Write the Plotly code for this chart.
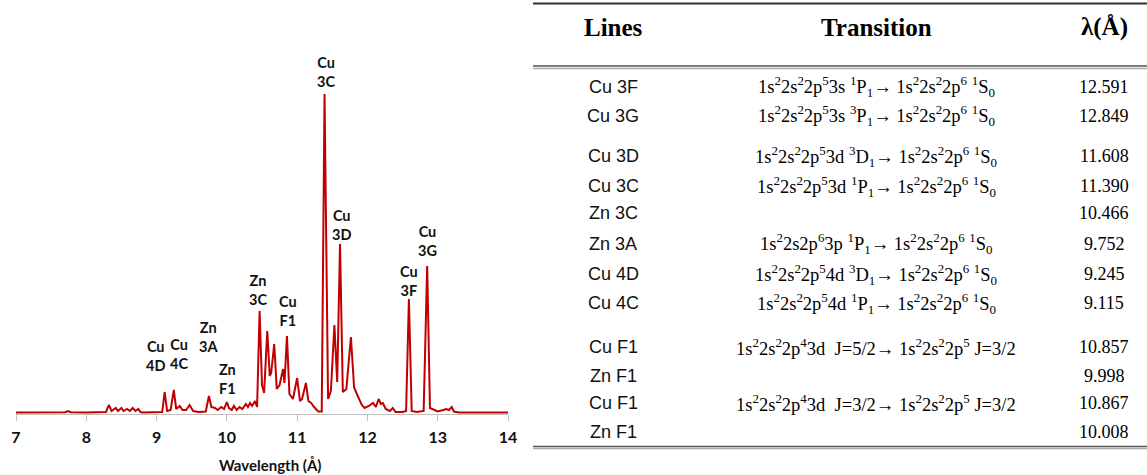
import plotly.graph_objects as go

# ---------------- spectrum data (arbitrary intensity units) -------------
wavelength = [7.00, 7.60, 7.70, 7.74, 7.78, 8.00, 8.28, 8.32, 8.36, 8.42, 8.45, 8.50, 8.53,
              8.58, 8.62, 8.66, 8.70, 8.74, 8.77, 8.80, 9.00, 9.08, 9.115, 9.15, 9.20, 9.245,
              9.28, 9.33, 9.37, 9.42, 9.47, 9.52, 9.60, 9.70, 9.745, 9.78, 9.83, 9.87, 9.92,
              9.96, 10.00, 10.03, 10.07, 10.10, 10.14, 10.18, 10.22, 10.27, 10.30, 10.33,
              10.36, 10.40, 10.43, 10.466, 10.50, 10.53, 10.575, 10.61, 10.63, 10.674, 10.71,
              10.75, 10.80, 10.82, 10.855, 10.89, 10.94, 11.00, 11.04, 11.07, 11.125, 11.16,
              11.20, 11.24, 11.30, 11.35, 11.39, 11.44, 11.48, 11.53, 11.57, 11.61, 11.65,
              11.70, 11.765, 11.81, 11.83, 11.865, 11.92, 11.96, 12.02, 12.08, 12.12, 12.16,
              12.19, 12.22, 12.26, 12.32, 12.36, 12.40, 12.50, 12.55, 12.59, 12.63, 12.70,
              12.80, 12.85, 12.89, 12.95, 13.00, 13.08, 13.12, 13.16, 13.20, 13.23, 13.30,
              14.00]
intensity = [0.5, 0.5, 0.8, 2.0, 0.8, 0.5, 1.0, 8.0, 2.0, 5.0, 2.0, 5.0, 2.0,
             4.0, 2.0, 5.0, 2.0, 4.0, 1.0, 0.5, 0.5, 1.0, 21.0, 2.0, 3.0, 23.0,
             4.0, 7.0, 3.0, 3.0, 8.0, 2.0, 1.0, 1.5, 17.0, 6.0, 5.0, 3.0, 6.0,
             4.0, 11.0, 5.0, 3.0, 7.0, 3.0, 6.0, 4.0, 9.0, 6.0, 10.0,
             7.0, 12.0, 6.0, 102.0, 28.0, 20.0, 82.0, 37.0, 40.0, 69.0, 24.0,
             28.0, 44.0, 30.0, 77.0, 19.0, 14.0, 35.0, 12.0, 14.0, 30.0, 12.0,
             10.0, 6.0, 1.5, 1.5, 319.0, 14.0, 22.0, 88.0, 31.0, 169.0, 21.0,
             24.0, 76.0, 26.0, 22.0, 16.0, 8.0, 5.0, 7.0, 10.0, 6.0, 14.0,
             9.0, 10.0, 4.0, 2.0, 5.0, 1.0, 1.0, 2.0, 114.0, 2.0, 1.0,
             2.0, 147.0, 5.0, 3.0, 1.5, 3.0, 4.0, 3.0, 6.0, 1.5, 0.5,
             0.5]

x_ticks = [7, 8, 9, 10, 11, 12, 13, 14]

# peak labels
peak_labels = ["Cu<br>4D", "Cu<br>4C", "Zn<br>3A", "Zn<br>F1", "Zn<br>3C",
               "Cu<br>F1", "Cu<br>3C", "Cu<br>3D", "Cu<br>3F", "Cu<br>3G"]
peak_wavelengths = [9.115, 9.245, 9.745, 10.00, 10.466, 10.855, 11.39, 11.61, 12.59, 12.85]

# ---------------- table data -------------
line_names = ["Cu 3F", "Cu 3G", "Cu 3D", "Cu 3C", "Zn 3C", "Zn 3A",
              "Cu 4D", "Cu 4C", "Cu F1", "Zn F1", "Cu F1", "Zn F1"]
S = "<sup>%s</sup>"
B = "<sub>%s</sub>"
def cfg(core):
    return "1s" + S % 2 + "2s" + S % 2 + "2p" + S % core
ground = "1s" + S % 2 + "2s" + S % 2 + "2p" + S % 6 + " " + S % 1 + "S" + B % 0
transitions = [
    cfg(5) + "3s " + S % 1 + "P" + B % 1 + "\u2192 " + ground,
    cfg(5) + "3s " + S % 3 + "P" + B % 1 + "\u2192 " + ground,
    cfg(5) + "3d " + S % 3 + "D" + B % 1 + "\u2192 " + ground,
    cfg(5) + "3d " + S % 1 + "P" + B % 1 + "\u2192 " + ground,
    "",
    "1s" + S % 2 + "2s2p" + S % 6 + "3p " + S % 1 + "P" + B % 1 + "\u2192 " + ground,
    cfg(5) + "4d " + S % 3 + "D" + B % 1 + "\u2192 " + ground,
    cfg(5) + "4d " + S % 1 + "P" + B % 1 + "\u2192 " + ground,
    cfg(4) + "3d \u00a0J=5/2\u2192 1s" + S % 2 + "2s" + S % 2 + "2p" + S % 5 + " J=3/2",
    "",
    cfg(4) + "3d \u00a0J=3/2\u2192 1s" + S % 2 + "2s" + S % 2 + "2p" + S % 5 + " J=3/2",
    "",
]
table_wavelengths = ["12.591", "12.849", "11.608", "11.390", "10.466", "9.752",
                     "9.245", "9.115", "10.857", "9.998", "10.867", "10.008"]
headers = ["Lines", "Transition", "\u03bb(\u00c5)"]

# ---------------- figure -------------
W, H = 1147, 475
def px(x):
    return x / W
def py(y):
    return 1 - y / H

fig = go.Figure()
fig.add_trace(go.Scatter(x=wavelength, y=intensity, mode="lines",
                         line=dict(color="#C00000", width=2),
                         hoverinfo="skip", showlegend=False))

LABEL_FONT = dict(family="Lato", size=14.5, color="#111111", weight="bold")
label_shift = [(-9, 36), (5, 36), (0, 59), (1, 23), (-2, 21),
               (1, 25), (1, 22), (1, 19), (0, 18), (0, 25)]
lookup = dict(zip(wavelength, intensity))
annotations = []
for lab, wl, (dx, dy) in zip(peak_labels, peak_wavelengths, label_shift):
    annotations.append(dict(x=wl, y=lookup[wl], xref="x", yref="y", text=lab,
                            showarrow=False, xanchor="center", yanchor="middle",
                            xshift=dx, yshift=dy, font=LABEL_FONT))

# axis title
annotations.append(dict(x=px(270), y=py(465), xref="paper", yref="paper",
                        text="Wavelength (\u00c5)", showarrow=False,
                        xanchor="center", yanchor="middle",
                        font=dict(family="Lato", size=15, color="#111111", weight="bold")))

# table
col_x = [613, 876, 1104]
head_font = dict(family="Liberation Serif", size=25, color="#000000", weight="bold")
for hx, htxt in zip(col_x, headers):
    annotations.append(dict(x=px(hx), y=py(27), xref="paper", yref="paper", text=htxt,
                            showarrow=False, xanchor="center", yanchor="middle",
                            font=head_font))
row_y = [87, 116, 156, 186, 213, 244, 274, 303, 347, 376, 403, 432]
for yy, name, tr, wl in zip(row_y, line_names, transitions, table_wavelengths):
    annotations.append(dict(x=px(col_x[0]), y=py(yy), xref="paper", yref="paper", text=name,
                            showarrow=False, xanchor="center", yanchor="middle",
                            font=dict(family="Liberation Sans", size=18, color="#111111")))
    if tr:
        annotations.append(dict(x=px(col_x[1]), y=py(yy), xref="paper", yref="paper", text=tr,
                                showarrow=False, xanchor="center", yanchor="middle",
                                font=dict(family="Liberation Serif", size=18.5, color="#000000")))
    annotations.append(dict(x=px(col_x[2]), y=py(yy), xref="paper", yref="paper", text=wl,
                            showarrow=False, xanchor="center", yanchor="middle",
                            font=dict(family="Liberation Serif", size=18, color="#000000")))

shapes = [
    dict(type="line", xref="paper", yref="paper", x0=px(533), x1=1, y0=py(3.5), y1=py(3.5),
         line=dict(color="#333333", width=2)),
    dict(type="line", xref="paper", yref="paper", x0=px(533), x1=1, y0=py(66), y1=py(66),
         line=dict(color="#555555", width=1.5)),
    dict(type="line", xref="paper", yref="paper", x0=px(533), x1=1, y0=py(68.5), y1=py(68.5),
         line=dict(color="#AAAAAA", width=1.5)),
    dict(type="line", xref="paper", yref="paper", x0=px(533), x1=1, y0=py(446.5), y1=py(446.5),
         line=dict(color="#555555", width=1.5)),
    dict(type="line", xref="paper", yref="paper", x0=px(533), x1=1, y0=py(448.5), y1=py(448.5),
         line=dict(color="#AAAAAA", width=1.5)),
]

fig.update_layout(
    width=W, height=H,
    margin=dict(l=0, r=0, t=0, b=0),
    paper_bgcolor="white", plot_bgcolor="white",
    annotations=annotations, shapes=shapes,
    xaxis=dict(domain=[px(16), px(508)], range=[7, 14], tickvals=x_ticks,
               ticktext=[str(t) for t in x_ticks],
               ticks="outside", ticklen=6, tickcolor="#BFBFBF", tickwidth=1,
               showline=True, linecolor="#BFBFBF", linewidth=1,
               showgrid=False, zeroline=False, automargin=False,
               ticklabelstandoff=3,
               tickfont=dict(family="Lato", size=16, color="#111111", weight="bold")),
    yaxis=dict(domain=[py(414), py(40)], range=[-1, 373], visible=False,
               automargin=False),
)

fig.write_html("out.html")
